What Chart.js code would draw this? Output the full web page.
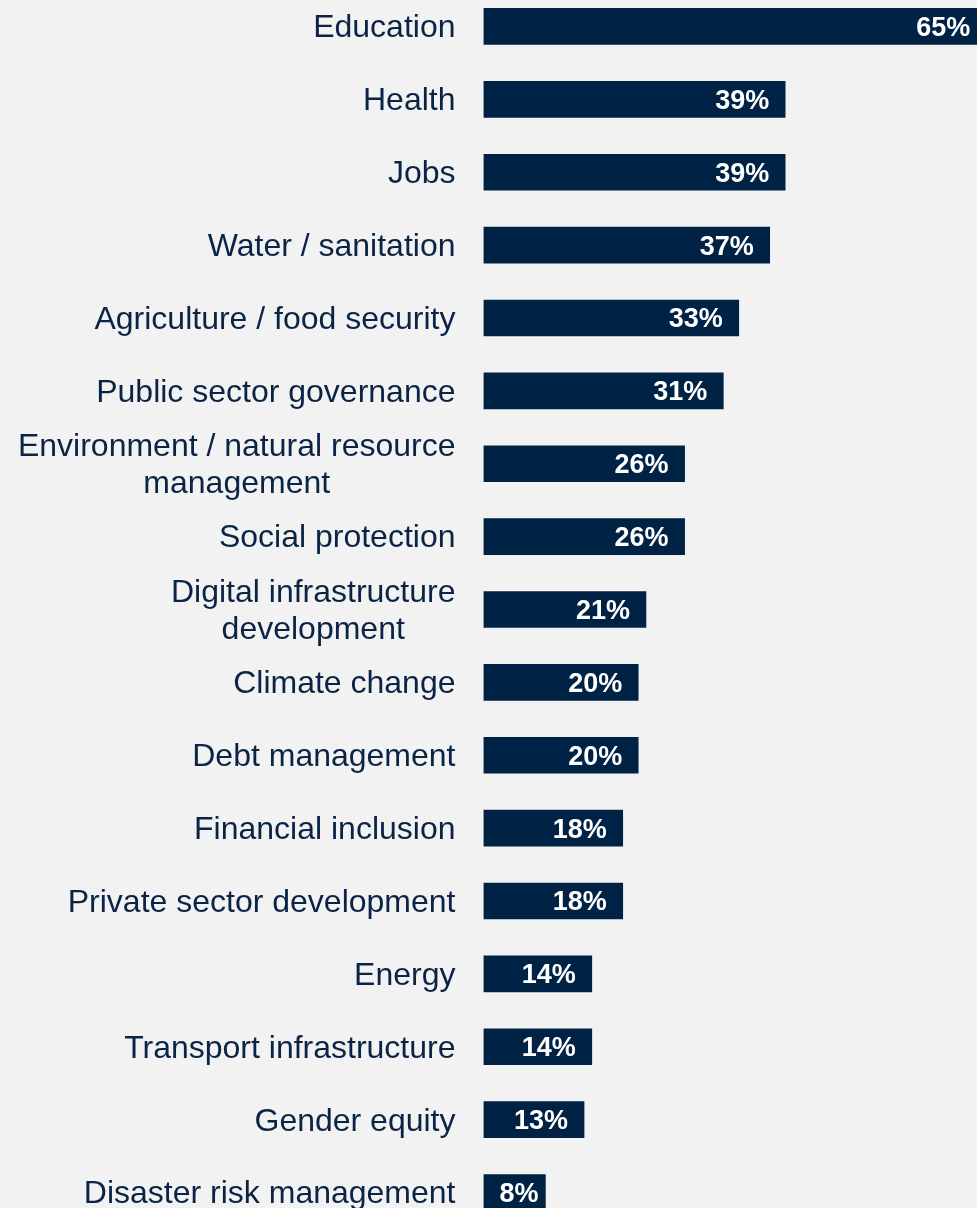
<!DOCTYPE html>
<html>
<head>
<meta charset="utf-8">
<script src="https://cdn.jsdelivr.net/npm/chart.js@4.4.1/dist/chart.umd.min.js"></script>
<style>
  html, body { margin: 0; padding: 0; background: #f2f2f2; overflow: hidden; }
  #wrap { position: absolute; left: 0; top: -10px; width: 977px; height: 1239px; }
</style>
</head>
<body>
<div id="wrap"><canvas id="chartSectors"></canvas></div>
<script>
/* ===== Sector priorities (horizontal bars) ===== */
const categories = [
  ['Education'],
  ['Health'],
  ['Jobs'],
  ['Water / sanitation'],
  ['Agriculture / food security'],
  ['Public sector governance'],
  ['Environment / natural resource', 'management'],
  ['Social protection'],
  ['Digital infrastructure', 'development'],
  ['Climate change'],
  ['Debt management'],
  ['Financial inclusion'],
  ['Private sector development'],
  ['Energy'],
  ['Transport infrastructure'],
  ['Gender equity'],
  ['Disaster risk management']
];
const values = [65, 39, 39, 37, 33, 31, 26, 26, 21, 20, 20, 18, 18, 14, 14, 13, 8];
const xMax = 63.8;

const NAVY = '#002245';
const TEXT = '#0b2446';
const FONT = '"Liberation Sans", Arial, sans-serif';

// category names drawn right-aligned left of the bars; wrapped names centered as a block
const categoryLabels = {
  id: 'categoryLabels',
  afterDraw(chart) {
    const ctx = chart.ctx;
    const yScale = chart.scales.y;
    const right = chart.chartArea.left - 28;
    const lineH = 37;
    ctx.save();
    ctx.font = '32px ' + FONT;
    ctx.fillStyle = TEXT;
    ctx.textBaseline = 'middle';
    categories.forEach((lines, i) => {
      const yc = yScale.getPixelForValue(i) + 2;
      if (lines.length === 1) {
        ctx.textAlign = 'right';
        ctx.fillText(lines[0], right, yc);
      } else {
        const w = Math.max(...lines.map(l => ctx.measureText(l).width));
        ctx.textAlign = 'center';
        const top = yc - (lines.length - 1) * lineH / 2;
        lines.forEach((l, j) => ctx.fillText(l, right - w / 2, top + j * lineH));
      }
    });
    ctx.restore();
  }
};

// percentage inside the end of each bar
const valueLabels = {
  id: 'valueLabels',
  afterDatasetsDraw(chart) {
    const ctx = chart.ctx;
    const xScale = chart.scales.x;
    const yScale = chart.scales.y;
    const x0 = xScale.getPixelForValue(0);
    ctx.save();
    ctx.font = 'bold 27px ' + FONT;
    ctx.fillStyle = '#ffffff';
    ctx.textBaseline = 'middle';
    ctx.textAlign = 'left';
    values.forEach((v, i) => {
      const txt = v + '%';
      const w = ctx.measureText(txt).width;
      const xEnd = xScale.getPixelForValue(v);
      const x = Math.max(xEnd - 16 - w, x0 + 16);
      ctx.fillText(txt, x, yScale.getPixelForValue(i) + 2);
    });
    ctx.restore();
  }
};

new Chart(document.getElementById('chartSectors'), {
  type: 'bar',
  data: {
    labels: categories.map(c => c.join(' ')),
    datasets: [{
      data: values,
      backgroundColor: NAVY,
      borderWidth: 0,
      barThickness: 36
    }]
  },
  options: {
    indexAxis: 'y',
    responsive: true,
    maintainAspectRatio: false,
    animation: false,
    layout: { padding: { left: 483.5, right: 0, top: 0, bottom: 0 } },
    plugins: { legend: { display: false }, tooltip: { enabled: false } },
    scales: {
      x: { display: false, min: 0, max: xMax },
      y: { display: false }
    }
  },
  plugins: [categoryLabels, valueLabels]
});
</script>
</body>
</html>
